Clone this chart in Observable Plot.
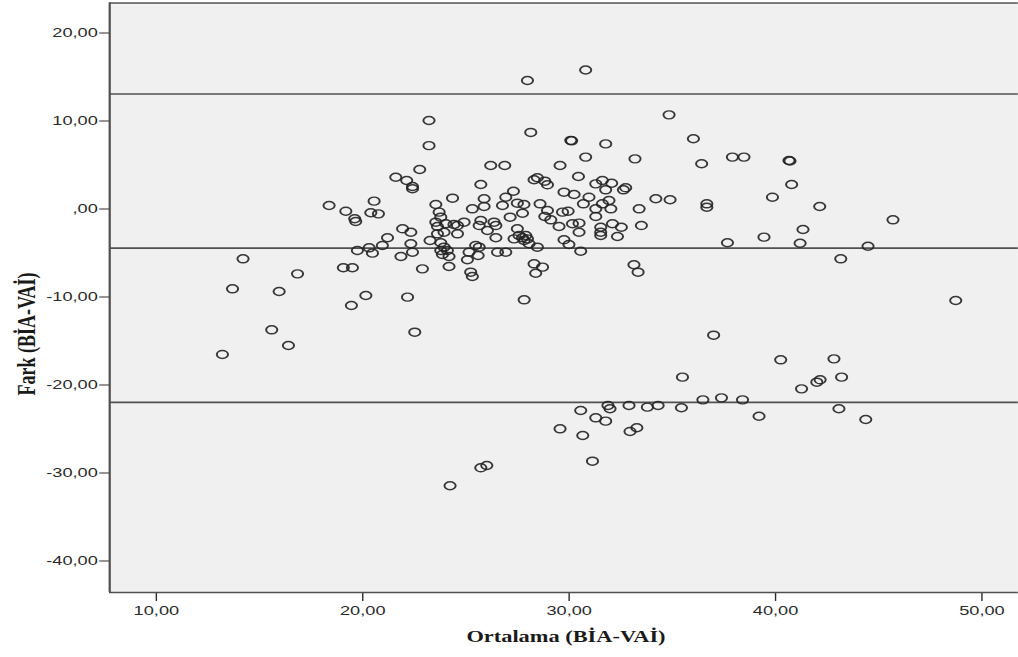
<!DOCTYPE html>
<html><head><meta charset="utf-8">
<script src="https://cdn.jsdelivr.net/npm/d3@7"></script>
<script src="https://cdn.jsdelivr.net/npm/@observablehq/plot@0.6"></script>
<style>
html,body{margin:0;padding:0;background:#fff;overflow:hidden}
#chart{position:relative;width:1018px;height:657px}
#chart svg{transform:scaleX(1.4);transform-origin:0 0;display:block}
</style></head><body><div id="chart"></div>
<script>
// Ortalama (mean of the two methods) for each subject
const avg = [27.98,30.80,23.21,23.21,28.14,30.08,30.12,31.77,34.84,36.02,30.80,33.19,36.42,37.91,38.47,31.29,31.61,32.06,31.77,32.63,32.74,30.96,30.69,31.61,31.93,31.29,32.02,31.29,33.39,34.20,34.89,36.67,36.67,39.85,31.53,31.53,31.53,32.10,32.53,32.34,33.50,30.56,37.67,39.44,33.14,33.34,
21.60,22.13,22.41,22.41,22.76,26.20,26.88,25.72,29.56,30.45,28.30,28.46,28.82,28.95,24.35,23.54,25.88,26.93,27.30,26.77,27.49,27.81,25.31,25.88,27.74,27.14,28.59,28.95,29.75,30.24,29.68,29.95,28.82,29.11,29.51,30.16,30.48,30.48,29.75,29.99,
23.70,23.78,23.54,23.62,24.02,24.42,24.59,24.91,24.59,23.94,23.62,23.26,23.78,23.94,23.78,24.10,24.18,23.86,24.18,22.89,22.41,21.85,22.33,22.33,21.93,21.20,
25.07,25.15,25.23,25.31,25.47,25.64,25.59,26.53,26.93,26.45,26.04,25.72,25.64,26.36,26.45,27.49,27.33,27.57,27.74,27.90,27.98,27.82,28.06,28.46,28.30,28.71,28.38,27.82,22.17,22.52,
18.37,19.18,19.61,19.66,20.55,20.39,20.76,20.95,20.31,19.74,20.47,19.06,19.50,14.20,16.84,13.69,15.95,20.15,19.45,15.59,16.40,13.20,
30.56,31.29,29.56,30.66,31.13,25.72,26.01,24.23,
37.00,40.25,42.83,35.49,41.26,42.00,42.16,43.20,36.48,37.38,38.40,31.88,31.98,32.90,33.79,34.31,35.44,31.77,39.20,43.07,44.37,32.95,33.28,
40.65,40.70,40.78,42.14,45.69,41.33,41.19,44.48,43.16,48.73];
// Fark (difference of the two methods) for each subject
const diff = [14.6,15.8,10.06,7.2,8.7,7.8,7.75,7.4,10.7,7.98,5.9,5.7,5.14,5.9,5.9,2.86,3.24,2.93,2.18,2.18,2.41,1.34,0.59,0.59,0.97,0.02,0.02,-0.85,0.02,1.16,1.05,0.59,0.2,1.34,-2.07,-2.64,-3.01,-1.68,-2.07,-3.13,-1.88,-4.80,-3.84,-3.20,-6.34,-7.18,
3.61,3.24,2.56,2.30,4.49,4.94,4.94,2.78,4.94,3.69,3.32,3.55,3.16,2.75,1.23,0.51,1.16,1.34,2.02,0.40,0.66,0.51,0.02,0.28,-0.48,-0.93,0.59,-0.17,1.91,1.65,-0.36,-0.25,-0.85,-1.23,-1.99,-1.68,-1.61,-2.64,-3.50,-4.03,
-0.36,-0.93,-1.50,-1.99,-1.68,-1.76,-1.88,-1.50,-2.82,-2.64,-2.82,-3.58,-3.84,-4.34,-4.72,-4.72,-5.40,-5.17,-6.53,-6.80,-4.91,-5.40,-3.95,-2.64,-2.25,-3.27,
-5.77,-4.91,-7.18,-7.67,-4.15,-4.34,-5.28,-4.91,-4.91,-3.27,-2.44,-1.31,-1.88,-1.50,-1.88,-2.25,-3.39,-3.01,-3.27,-3.01,-3.39,-3.58,-3.95,-4.34,-6.23,-6.61,-7.30,-10.32,-10.02,-14.0,
0.40,-0.25,-1.11,-1.42,0.89,-0.43,-0.55,-4.15,-4.41,-4.72,-5.02,-6.68,-6.68,-5.66,-7.37,-9.07,-9.38,-9.83,-10.97,-13.73,-15.51,-16.53,
-22.9,-23.73,-24.98,-25.74,-28.66,-29.41,-29.15,-31.45,
-14.34,-17.14,-17.03,-19.11,-20.44,-19.68,-19.41,-19.11,-21.69,-21.46,-21.69,-22.33,-22.70,-22.33,-22.52,-22.33,-22.59,-24.11,-23.55,-22.70,-23.92,-25.28,-24.86,
5.51,5.45,2.78,0.28,-1.23,-2.33,-3.89,-4.23,-5.66,-10.40];

// reference lines: upper limit, mean difference, lower limit
const upperLoA = 13.07;
const meanDiff = -4.45;
const lowerLoA = -21.97;

const xTicks = [10, 20, 30, 40, 50];
const yTicks = [20, 10, 0, -10, -20, -30, -40];
const xDomain = [7.74, 51.78];
const yDomain = [-43.58, 23.41];
const xTitle = "Ortalama (BİA-VAİ)";
const yTitle = "Fark (BİA-VAİ)";

const S = 1.4;            // horizontal stretch of the original picture
const W = 1018 / S;
const fmt = v => v === 0 ? ",00" : v.toFixed(2).replace(".", ",");
const points = avg.map((a, i) => ({avg: a, diff: diff[i]}));

const plot = Plot.plot({
  width: W, height: 657,
  marginLeft: 109 / S, marginRight: 0, marginTop: 2.5, marginBottom: 65,
  style: {background: "#fff", fontFamily: "'Liberation Sans', Arial, sans-serif", fontSize: "13px", color: "#2b2b2b"},
  x: {domain: xDomain, ticks: xTicks, tickFormat: fmt, tickSize: 9, tickPadding: 4, label: null},
  y: {domain: yDomain, ticks: yTicks, tickFormat: fmt, tickSize: 7, tickPadding: 1.5, label: null},
  marks: [
    Plot.frame({fill: "#f0f0f0", stroke: "none"}),
    Plot.ruleY([upperLoA, meanDiff, lowerLoA], {stroke: "#505050", strokeWidth: 1.6}),
    Plot.dot(points, {x: "avg", y: "diff", r: 4, stroke: "#222", strokeWidth: 1.4, fill: "none", strokeOpacity: 0.9}),
    Plot.ruleY([yDomain[1], yDomain[0]], {stroke: "#505050", strokeWidth: 1.6}),
    Plot.ruleX([xDomain[0]], {stroke: "#505050", strokeWidth: 1.6})
  ]
});
document.getElementById("chart").appendChild(plot);

const svg = d3.select(plot);
svg.append("text")
  .attr("x", 566 / S).attr("y", 642)
  .attr("text-anchor", "middle")
  .style("font-family", "'Liberation Serif', 'Times New Roman', serif")
  .style("font-weight", "bold").style("font-size", "16px").style("fill", "#1a1a1a")
  .text(xTitle);
svg.append("text")
  .attr("transform", `translate(${26 / S},334) rotate(-90)`)
  .attr("text-anchor", "middle").attr("dominant-baseline", "central")
  .style("font-family", "'Liberation Serif', 'Times New Roman', serif")
  .style("font-weight", "bold").style("font-size", "18px").style("fill", "#1a1a1a")
  .text(yTitle);
</script></body></html>
